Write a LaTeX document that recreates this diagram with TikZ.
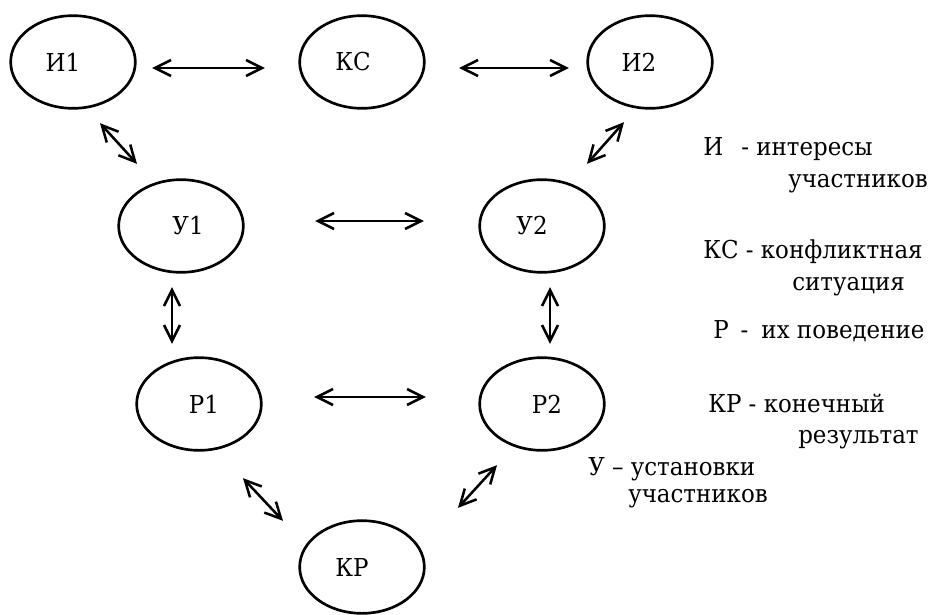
\documentclass[tikz,border=0pt]{standalone}
\usepackage{fontspec}
\setmainfont{DejaVu Serif}[FakeStretch=0.93]
\usetikzlibrary{shapes.geometric,arrows.meta,calc}
\tikzset{
  oval/.style={ellipse, draw, line width=2pt, minimum width=93.5pt, minimum height=69.5pt, inner sep=0pt},
  link/.style={{Straight Barb[length=12pt,width=12pt]}-{Straight Barb[length=12pt,width=12pt]}, line width=1.9pt},
  legend/.style={anchor=base west, inner sep=0pt}
}
\begin{document}
\begin{tikzpicture}[x=0.75pt, y=-0.75pt, font=\fontsize{18.5}{22}\selectfont]
\useasboundingbox (0,0) rectangle (934,614);
% ellipses
\node[oval, label={[xshift=-7.5pt]center:И1}] (I1) at (73,62) {};
\node[oval, label={[xshift=-6.75pt]center:КС}] (KS) at (362,62) {};
\node[oval, label={[xshift=-8.25pt]center:И2}] (I2) at (650,62) {};
\node[oval, label={[xshift=5.25pt]center:У1}] (U1) at (181,226) {};
\node[oval, label={[xshift=-7.5pt]center:У2}] (U2) at (542,226) {};
\node[oval, label={[xshift=3.75pt]center:Р1}] (R1) at (199,404) {};
\node[oval, label={[xshift=3.75pt]center:Р2}] (R2) at (542,404) {};
\node[oval, label={[xshift=-7.5pt]center:КР}] (KR) at (362,567) {};
% connectors
\draw[link] ($(I1.east)+(15.5,6)$) -- ($(KS.west)+(-33.5,6)$);
\draw[link] ($(KS.east)+(33.5,6)$) -- ($(I2.west)+(-17.5,6)$);
\draw[link] ($(I1.south)+(27,13.5)$) -- ($(U1.north)+(-44,-14.5)$);
\draw[link] ($(I2.south)+(-26,12.5)$) -- ($(U2.north)+(45,-14.5)$);
\draw[link] ($(U1.east)+(70.5,-5)$) -- ($(U2.west)+(-54.5,-5)$);
\draw[link] ($(U1.south)+(-9,13.5)$) -- ($(R1.north)+(-27,-12.5)$);
\draw[link] ($(U2.south)+(8,13.5)$) -- ($(R2.north)+(8,-12.5)$);
\draw[link] ($(R1.east)+(51.5,-7)$) -- ($(R2.west)+(-52.5,-7)$);
\draw[link] ($(R1.south)+(44,26.5)$) -- ($(KR.north)+(-79,1.5)$);
\draw[link] ($(R2.south)+(-45,13.5)$) -- ($(KR.north)+(96,-11.5)$);
% legend
\node[legend] (legI) at (703,155) {И\hspace{13.5pt}- интересы};
\node[legend] (legIb) at (788,187) {участников};
\node[legend] (legKS) at (703,258) {КС - конфликтная};
\node[legend] (legKSb) at (792,290) {ситуация};
\node[legend] (legR) at (713,338) {Р\hspace{9pt}-\hspace{9.75pt}их поведение};
\node[legend] (legKR) at (708,412) {КР - конечный};
\node[legend] (legKRb) at (798,443) {результат};
\node[legend] (legU) at (588,475) {У – установки};
\node[legend] (legUb) at (628,502) {участников};
\end{tikzpicture}
\end{document}
